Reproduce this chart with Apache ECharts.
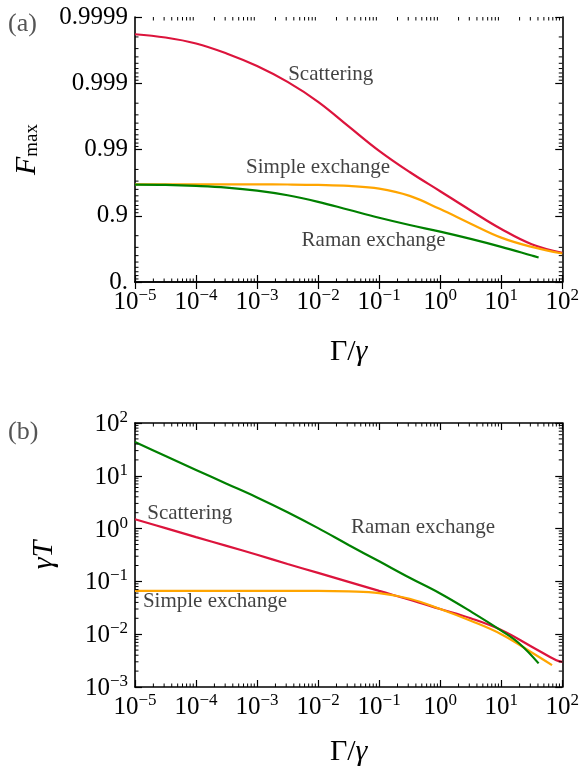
<!DOCTYPE html>
<html>
<head>
<meta charset="utf-8">
<script src="https://cdn.jsdelivr.net/npm/echarts@6/dist/echarts.min.js"></script>
<style>
  html, body { margin: 0; padding: 0; background: #fff; }
  #chart { width: 582px; height: 769px; }
</style>
</head>
<body>
<div id="chart"></div>
<script>
// Γ/γ sample points (half decades)
const gammaX = [1e-5, 3.16e-5, 1e-4, 3.16e-4, 1e-3, 3.16e-3, 1e-2, 3.16e-2, 0.1, 0.316, 1, 3.16, 10, 31.6, 100];
const ramanXA = [1e-5, 3.16e-5, 1e-4, 3.16e-4, 1e-3, 3.16e-3, 1e-2, 3.16e-2, 0.1, 0.316, 1, 3.16, 10, 31.6, 41];

// (a) F_max
const scatterF = [0.999818, 0.999796, 0.999749, 0.999645, 0.99945, 0.999045, 0.998095, 0.99553, 0.98953, 0.97812, 0.95734, 0.9168, 0.8415, 0.7308, 0.6369];
const simpleF = [0.96650, 0.96650, 0.96650, 0.96650, 0.96650, 0.96627, 0.96572, 0.96452, 0.96110, 0.94988, 0.92057, 0.8682, 0.7862, 0.7049, 0.6285];
const ramanF = [0.96612, 0.96572, 0.96452, 0.96242, 0.95831, 0.95102, 0.93834, 0.91872, 0.8928, 0.8620, 0.8262, 0.7761, 0.7049, 0.6019, 0.5734];
const fTickLabels = ['0.', '0.9', '0.99', '0.999', '0.9999'];

// (b) γT
const scatterTX = [1e-5, 3.16e-5, 1e-4, 3.16e-4, 1e-3, 3.16e-3, 1e-2, 3.16e-2, 0.1, 0.316, 1, 3.16, 10, 31.6, 80, 100];
const scatterT = [1.5, 1.02, 0.69, 0.47, 0.32, 0.214, 0.145, 0.098, 0.066, 0.045, 0.030, 0.020, 0.012, 0.0058, 0.0032, 0.0030];
const simpleTX = [1e-5, 3.16e-5, 1e-4, 3.16e-4, 1e-3, 3.16e-3, 1e-2, 3.16e-2, 0.1, 0.316, 1, 3.16, 10, 31.6, 68];
const simpleT = [0.066, 0.066, 0.066, 0.066, 0.066, 0.066, 0.066, 0.0646, 0.060, 0.047, 0.030, 0.018, 0.010, 0.0045, 0.0026];
const ramanTX = [1e-5, 3.16e-5, 1e-4, 3.16e-4, 1e-3, 3.16e-3, 1e-2, 3.16e-2, 0.1, 0.316, 1, 3.16, 10, 20, 41];
const ramanT = [43.6, 23.7, 12.9, 7.08, 3.89, 2.04, 1.02, 0.49, 0.24, 0.117, 0.059, 0.027, 0.0117, 0.0066, 0.0028];

// curve labels: [text, x, y]
const notesA = [['Scattering', 0.0161, 0.99925], ['Simple exchange', 0.01, 0.981], ['Raman exchange', 0.081, 0.760]];
const notesB = [['Scattering', 7.9e-5, 1.97], ['Raman exchange', 0.524, 1.03], ['Simple exchange', 2.04e-4, 0.041]];

const FONT = 'Liberation Serif';
const RED = '#DC143C', ORANGE = '#FFA500', GREEN = '#008000';

const nines = F => -Math.log10(1 - F);

const chart = echarts.init(document.getElementById('chart'));

const powRich = {
  b: { fontFamily: FONT, fontSize: 25, color: '#000', lineHeight: 28, verticalAlign: 'bottom' },
  s: { fontFamily: FONT, fontSize: 17, color: '#000', lineHeight: 17, verticalAlign: 'top' }
};
function powLabel(v) {
  const e = Math.round(Math.log10(v));
  return '{b|10}{s|' + (e < 0 ? '\u2212' + (-e) : e) + '}';
}

function logX(grid, pos, gap) {
  return {
    type: 'log', gridIndex: grid, position: pos, min: 1e-5, max: 100, splitNumber: 7,
    axisLine: { lineStyle: { color: '#000', width: 1.6 } },
    axisTick: { inside: true, length: 7, lineStyle: { color: '#000', width: 1.2 } },
    axisLabel: pos === 'bottom'
      ? { show: true, margin: 5, fontFamily: FONT, formatter: powLabel, rich: powRich }
      : { show: false },
    splitLine: { show: false },
    name: pos === 'bottom' ? '{r|\u0393/}{i|\u03b3}' : '',
    nameLocation: 'middle', nameGap: gap || 50,
    nameTextStyle: {
      fontFamily: FONT,
      rich: {
        r: { fontFamily: FONT, fontSize: 30, color: '#000' },
        i: { fontFamily: FONT, fontSize: 30, fontStyle: 'italic', color: '#000' }
      }
    }
  };
}

// minor ticks drawn through the axes' own scales
function minorTicks(xIdx, yIdx, xVals, yVals, xMid, yMid) {
  const data = xVals.map(v => [v, yMid, 0]).concat(yVals.map(v => [xMid, v, 1]));
  return {
    type: 'custom', xAxisIndex: xIdx, yAxisIndex: yIdx, silent: true, z: 5,
    encode: { x: 0, y: 1 },
    data: data,
    renderItem(params, api) {
      const cs = params.coordSys;
      const p = api.coord([api.value(0), api.value(1)]);
      const L = 3.5;
      const style = { stroke: '#000', lineWidth: 1 };
      if (api.value(2) === 0) {
        return { type: 'group', children: [
          { type: 'line', shape: { x1: p[0], y1: cs.y + cs.height, x2: p[0], y2: cs.y + cs.height - L }, style },
          { type: 'line', shape: { x1: p[0], y1: cs.y, x2: p[0], y2: cs.y + L }, style }
        ] };
      }
      return { type: 'group', children: [
        { type: 'line', shape: { x1: cs.x, y1: p[1], x2: cs.x + L, y2: p[1] }, style },
        { type: 'line', shape: { x1: cs.x + cs.width, y1: p[1], x2: cs.x + cs.width - L, y2: p[1] }, style }
      ] };
    }
  };
}

const xMinor = [];
for (let n = -5; n < 2; n++) for (let k = 2; k <= 9; k++) xMinor.push(k * Math.pow(10, n));
const fMinor = [];
for (let n = 0; n < 4; n++) for (let k = 2; k <= 9; k++) fMinor.push(n + 1 - Math.log10(k));
const tMinor = [];
for (let n = -3; n < 2; n++) for (let k = 2; k <= 9; k++) tMinor.push(k * Math.pow(10, n));

function line(xIdx, yIdx, xs, ys, color, map) {
  return {
    type: 'line', xAxisIndex: xIdx, yAxisIndex: yIdx, showSymbol: false, smooth: 0.4,
    lineStyle: { color: color, width: 2.2 }, itemStyle: { color: color },
    data: xs.map((x, i) => [x, map ? map(ys[i]) : ys[i]]), z: 3
  };
}

function notes(xIdx, yIdx, list, map) {
  return {
    type: 'scatter', xAxisIndex: xIdx, yAxisIndex: yIdx, symbolSize: 0, silent: true, z: 4,
    label: {
      show: true, position: 'inside', formatter: p => p.name,
      fontFamily: FONT, fontSize: 21, color: '#111'
    },
    data: list.map(d => ({ name: d[0], value: [d[1], map ? map(d[2]) : d[2]] }))
  };
}

const yFrame = { lineStyle: { color: '#000', width: 1.6 } };
const yTick = { inside: true, length: 7, lineStyle: { color: '#000', width: 1.2 } };

chart.setOption({
  animation: false,
  backgroundColor: '#fff',
  textStyle: { fontFamily: FONT },
  grid: [
    { left: 135, top: 17, width: 428, height: 265 },
    { left: 135, top: 423, width: 428, height: 264 }
  ],
  xAxis: [logX(0, 'bottom', 55), logX(0, 'top'), logX(1, 'bottom', 50), logX(1, 'top')],
  yAxis: [
    {
      type: 'value', gridIndex: 0, position: 'left', min: 0, max: 4, interval: 1,
      axisLine: yFrame, axisTick: yTick, splitLine: { show: false },
      axisLabel: { margin: 7, fontFamily: FONT, fontSize: 25, color: '#000', formatter: v => fTickLabels[Math.round(v)] },
      name: '{f|F}{s|max}', nameLocation: 'middle', nameRotate: 90, nameGap: 93,
      nameTextStyle: {
        fontFamily: FONT,
        rich: {
          f: { fontFamily: FONT, fontSize: 30, fontStyle: 'italic', color: '#000', lineHeight: 30, verticalAlign: 'top' },
          s: { fontFamily: FONT, fontSize: 19, color: '#000', lineHeight: 19, verticalAlign: 'bottom' }
        }
      }
    },
    {
      type: 'value', gridIndex: 0, position: 'right', min: 0, max: 4, interval: 1,
      axisLine: yFrame, axisTick: yTick, splitLine: { show: false }, axisLabel: { show: false }
    },
    {
      type: 'log', gridIndex: 1, position: 'left', min: 1e-3, max: 100, splitNumber: 5,
      axisLine: yFrame, axisTick: yTick, splitLine: { show: false },
      axisLabel: { margin: 7, fontFamily: FONT, formatter: powLabel, rich: powRich },
      name: '{i|\u03b3T}', nameLocation: 'middle', nameRotate: 90, nameGap: 76,
      nameTextStyle: { fontFamily: FONT, rich: { i: { fontFamily: FONT, fontSize: 30, fontStyle: 'italic', color: '#000' } } }
    },
    {
      type: 'log', gridIndex: 1, position: 'right', min: 1e-3, max: 100, splitNumber: 5,
      axisLine: yFrame, axisTick: yTick, splitLine: { show: false }, axisLabel: { show: false }
    }
  ],
  graphic: [
    { type: 'text', left: 8, top: 11, style: { text: '(a)', fontFamily: FONT, fontSize: 26, fill: '#555' } },
    { type: 'text', left: 8, top: 419, style: { text: '(b)', fontFamily: FONT, fontSize: 26, fill: '#555' } }
  ],
  series: [
    minorTicks(0, 0, xMinor, fMinor, 1, 2),
    minorTicks(2, 2, xMinor, tMinor, 1, 1),
    line(0, 0, gammaX, scatterF, RED, nines),
    line(0, 0, gammaX, simpleF, ORANGE, nines),
    line(0, 0, ramanXA, ramanF, GREEN, nines),
    notes(0, 0, notesA, nines),
    line(2, 2, scatterTX, scatterT, RED),
    line(2, 2, simpleTX, simpleT, ORANGE),
    line(2, 2, ramanTX, ramanT, GREEN),
    notes(2, 2, notesB)
  ]
});
</script>
</body>
</html>
